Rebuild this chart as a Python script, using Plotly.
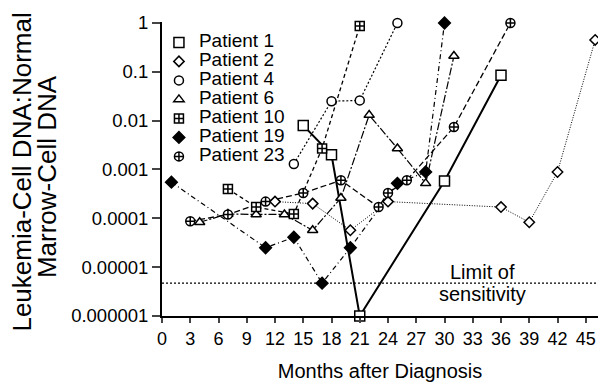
import plotly.graph_objects as go
import numpy as np

# Data (months after diagnosis, ratio)
p1_x = [15, 18, 21, 30, 36]
p1_y = [0.008, 0.002, 0.000001, 0.00058, 0.085]
p2_x = [12, 16, 20, 24, 36, 39, 42, 46]
p2_y = [0.00022, 0.0002, 0.000057, 0.00022, 0.00017, 0.000083, 0.00089, 0.45]
p4_x = [14, 18, 21, 25]
p4_y = [0.0013, 0.025, 0.026, 1.0]
p6_x = [4, 7, 10, 13, 16, 19, 22, 25, 28, 31]
p6_y = [0.000083, 0.000123, 0.00012, 0.00012, 0.000057, 0.00026, 0.013, 0.0027, 0.00052, 0.21]
p10_x = [7, 10, 14, 17, 21]
p10_y = [0.0004, 0.00017, 0.000123, 0.0027, 0.87]
p19_x = [1, 11, 14, 17, 20, 25, 28, 30]
p19_y = [0.00055, 0.000025, 0.000041, 0.0000047, 0.000025, 0.00052, 0.00089, 1.0]
p23_x = [3, 7, 11, 15, 19, 23, 24, 26, 31, 37]
p23_y = [0.000087, 0.00012, 0.00022, 0.00033, 0.0006, 0.00017, 0.00033, 0.0006, 0.0074, 1.0]

limit_y = 0.0000047
x_ticks = list(range(0, 46, 3))
y_tickvals = [1e-6, 1e-5, 1e-4, 1e-3, 1e-2, 1e-1, 1]
y_ticktext = ["0.000001", "0.00001", "0.0001", "0.001", "0.01", "0.1", "1"]

series = [
    ("Patient 1", p1_x, p1_y, "square", "white", 10, dict(color="black", width=2, dash="solid")),
    ("Patient 2", p2_x, p2_y, "diamond", "white", 8, dict(color="black", width=1, dash="1px,1.5px")),
    ("Patient 4", p4_x, p4_y, "circle", "white", 9, dict(color="black", width=1.2, dash="2px,2px")),
    ("Patient 6", p6_x, p6_y, "triangle-up", "white", 9, dict(color="black", width=1.2, dash="8px,2px,2px,2px")),
    ("Patient 10", p10_x, p10_y, "square-cross", "white", 9, dict(color="black", width=1.3, dash="4px,3px")),
    ("Patient 19", p19_x, p19_y, "diamond", "black", 9, dict(color="black", width=1.2, dash="5px,3px,1px,3px")),
    ("Patient 23", p23_x, p23_y, "circle-cross", "white", 9, dict(color="black", width=1.3, dash="6px,3px")),
]

fig = go.Figure()

fig.add_trace(go.Scatter(x=[0, 46.3], y=[limit_y, limit_y], mode="lines",
                         line=dict(color="black", width=1.2, dash="2px,2px"),
                         showlegend=False, hoverinfo="skip"))

# connecting lines first
for name, xs, ys, sym, fill, size, line in series:
    fig.add_trace(go.Scatter(x=xs, y=ys, mode="lines", line=line, showlegend=False,
                             hoverinfo="skip", cliponaxis=False))

# markers on top (these carry the legend)
for name, xs, ys, sym, fill, size, line in series:
    fig.add_trace(go.Scatter(
        x=xs, y=ys, name='<span style="font-size:19px">' + name + '</span>', mode="markers",
        marker=dict(symbol=sym, color=fill, size=size, line=dict(color="black", width=1.5)),
        cliponaxis=False,
    ))

fig.add_annotation(x=34, y=np.log10(limit_y), text="Limit of", showarrow=False,
                   yanchor="bottom", yshift=-2, font=dict(size=20, color="black"))
fig.add_annotation(x=34, y=np.log10(limit_y), text="sensitivity", showarrow=False,
                   yanchor="top", yshift=2, font=dict(size=20, color="black"))

# y-axis title (two tightly spaced lines)
fig.add_annotation(xref="paper", yref="paper", x=-0.322, y=0.49, text="Leukemia-Cell DNA:Normal",
                   textangle=-90, showarrow=False, xanchor="center", yanchor="middle",
                   font=dict(size=26, color="black"))
fig.add_annotation(xref="paper", yref="paper", x=-0.262, y=0.475, text="Marrow-Cell DNA",
                   textangle=-90, showarrow=False, xanchor="center", yanchor="middle",
                   font=dict(size=26, color="black"))

fig.update_layout(
    width=598, height=385,
    margin=dict(l=162, r=0, t=22, b=69),
    plot_bgcolor="white", paper_bgcolor="white",
    font=dict(family="Liberation Sans, Arial, sans-serif", color="black", size=15),
    showlegend=True,
    legend=dict(x=-0.007, y=0.98, xanchor="left", yanchor="top", bgcolor="rgba(0,0,0,0)",
                font=dict(size=12), itemwidth=30, tracegroupgap=0),
    xaxis=dict(range=[0, 46.3], tickvals=x_ticks, ticks="outside", ticklen=5, tickwidth=2,
               showline=True, linecolor="black", linewidth=2, showgrid=False, zeroline=False,
               title=dict(text="Months after Diagnosis", font=dict(size=20), standoff=16),
               tickfont=dict(size=18)),
    yaxis=dict(type="log", range=[-6, 0.02], tickvals=y_tickvals, ticktext=y_ticktext,
               ticks="outside", ticklen=8, tickwidth=2, showline=True, linecolor="black",
               linewidth=2, showgrid=False, zeroline=False,
               tickfont=dict(size=18.5)),
)

fig.write_html("out.html")
